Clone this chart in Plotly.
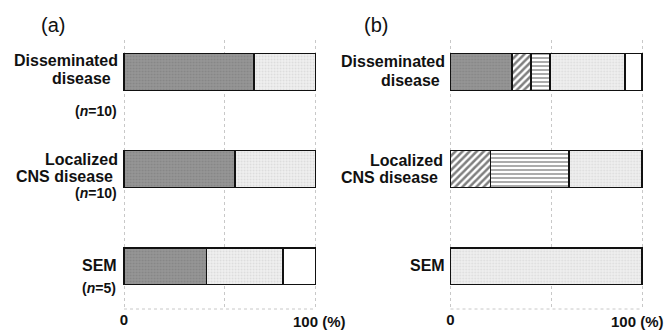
import plotly.graph_objects as go

W, H = 669, 332

categories = ["Disseminated disease", "Localized CNS disease", "SEM"]

# Panel (a) values (%)
a_dark = [68, 58, 43]
a_light = [32, 42, 40]
a_white = [0, 0, 17]

# Panel (b) values (%)
b_dark = [32, 0, 0]
b_diag = [10, 21, 0]
b_horiz = [10, 41, 0]
b_light = [39, 38, 100]
b_white = [9, 0, 0]

x_tickvals = [0, 52.7, 100]
x_ticktext = ["0", "", ""]
end_label = "100 (%)"

LINE = dict(color="#111111", width=1.5)
DARK = dict(color="#8e8e8e", line=LINE,
            pattern=dict(shape=".", fgcolor="#747474", bgcolor="#969696", size=3, solidity=0.3))
LIGHT = dict(color="#e8e8e8", line=LINE,
             pattern=dict(shape=".", fgcolor="#c6c6c6", bgcolor="#f0f0f0", size=3, solidity=0.3))
WHITE = dict(color="#ffffff", line=LINE)
DIAG = dict(color="#ffffff", line=LINE,
            pattern=dict(shape="/", fgcolor="#000000", bgcolor="#ffffff", size=5, solidity=0.5))
HORIZ = dict(color="#ffffff", line=LINE,
             pattern=dict(shape="-", fgcolor="#111111", bgcolor="#ffffff", size=4, solidity=0.35))

BW = 0.38
fig = go.Figure()
for vals, mk in [(a_dark, DARK), (a_light, LIGHT), (a_white, WHITE)]:
    fig.add_trace(go.Bar(x=vals, y=categories, orientation="h", width=BW,
                         marker=mk, xaxis="x", yaxis="y", showlegend=False, hoverinfo="skip"))
for vals, mk in [(b_dark, DARK), (b_diag, DIAG), (b_horiz, HORIZ), (b_light, LIGHT), (b_white, WHITE)]:
    fig.add_trace(go.Bar(x=vals, y=categories, orientation="h", width=BW,
                         marker=mk, xaxis="x2", yaxis="y2", showlegend=False, hoverinfo="skip"))

def px_x(p):
    return p / W

def px_y(p):
    return 1 - p / H

XR = [-2, 102]
ppu = 191.5 / 100
def dom(x0px):
    return [px_x(x0px + XR[0] * ppu), px_x(x0px + XR[1] * ppu)]

ydom = [px_y(309), px_y(40)]
yrange = [2.44, -0.33]

TICKFONT = dict(family="Liberation Sans", size=15, color="#111111", weight="bold")
GRID = "#c8c8c8"
xcommon = dict(range=XR, tickvals=x_tickvals, ticktext=x_ticktext, showgrid=True,
               gridcolor=GRID, griddash="dot", gridwidth=1, zeroline=False,
               showline=False, ticks="", fixedrange=True, tickfont=TICKFONT)
ycommon = dict(type="category", categoryorder="array", categoryarray=categories,
               range=yrange, domain=ydom, showticklabels=False, showgrid=False,
               zeroline=False, showline=False, ticks="", fixedrange=True)

fig.update_layout(
    width=W, height=H, autosize=False, barmode="stack", bargap=0,
    margin=dict(l=0, r=0, t=0, b=0),
    paper_bgcolor="white", plot_bgcolor="white",
    xaxis=dict(domain=dom(124), anchor="y", **xcommon),
    xaxis2=dict(domain=dom(450.5), anchor="y2", **xcommon),
    yaxis=dict(anchor="x", **ycommon),
    yaxis2=dict(anchor="x2", **ycommon),
    font=dict(family="Liberation Sans", color="#111111"),
)

for xr, yr, shift in [("x", "y domain", -25), ("x2", "y2 domain", -33)]:
    fig.add_shape(type="line", xref=xr, yref=yr, x0=0, x1=100, y0=0, y1=0,
                  line=dict(color=GRID, width=1, dash="dot"))
    fig.add_annotation(text="<b>%s</b>" % end_label, x=100, xref=xr, xshift=shift,
                       y=px_y(321), yref="paper", xanchor="left", yanchor="middle",
                       showarrow=False, font=dict(family="Liberation Sans", size=15, color="#111111"))

labels = [
    ("Disseminated", 120, 60, 16), ("disease", 113, 78, 16), ("(<i>n</i>=10)", 119, 111, 14),
    ("Localized", 120, 159, 16), ("CNS disease", 115, 176, 16), ("(<i>n</i>=10)", 119, 193, 14),
    ("SEM", 119, 265, 16), ("(<i>n</i>=5)", 118, 288, 14),
    ("Disseminated", 447, 61, 16), ("disease", 442, 80, 16),
    ("Localized", 445, 160, 16), ("CNS disease", 440, 177, 16),
    ("SEM", 447, 265, 16),
]
for t, xr_, yc, sz in labels:
    fig.add_annotation(text="<b>%s</b>" % t, x=px_x(xr_), y=px_y(yc), xref="paper", yref="paper",
                       xanchor="right", yanchor="middle", showarrow=False,
                       font=dict(family="Liberation Sans", size=sz, color="#111111"))

for t, xl in [("(a)", 39), ("(b)", 362)]:
    fig.add_annotation(text=t, x=px_x(xl), y=px_y(25), xref="paper", yref="paper",
                       xanchor="left", yanchor="middle", showarrow=False,
                       font=dict(family="Liberation Sans", size=20, color="#111111"))

fig.write_html("out.html",
               config={"responsive": False, "displayModeBar": False, "staticPlot": True},
               post_script="document.documentElement.style.margin='0';document.body.style.margin='0';"
                           "document.documentElement.style.overflow='hidden';"
                           "document.body.style.overflow='hidden';")
